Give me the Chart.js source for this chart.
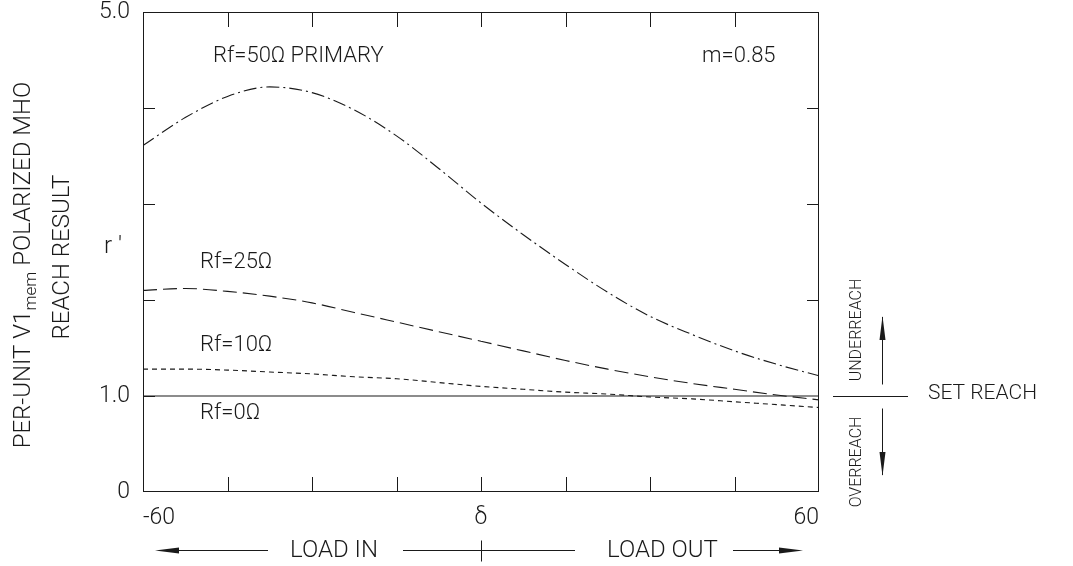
<!DOCTYPE html>
<html>
<head>
<meta charset="utf-8">
<script src="https://cdn.jsdelivr.net/npm/chart.js@4.4.0/dist/chart.umd.min.js"></script>
<style>
  body { margin: 0; background: #fff; }
  #wrap { width: 1073px; height: 566px; position: relative; }
</style>
</head>
<body>
<div id="wrap"><canvas id="reach"></canvas></div>
<script>
// load angle delta, degrees
const delta = [-60, -52.5, -45, -37.5, -30, -22.5, -15, -7.5, 0, 7.5, 15, 22.5, 30, 37.5, 45, 52.5, 60];
// per-unit reach r' for each fault resistance
const rf50 = [3.61, 3.90, 4.12, 4.22, 4.16, 3.98, 3.71, 3.37, 3.01, 2.68, 2.37, 2.08, 1.83, 1.64, 1.47, 1.33, 1.21];
const rf25 = [2.10, 2.12, 2.09, 2.04, 1.97, 1.87, 1.77, 1.67, 1.57, 1.47, 1.37, 1.28, 1.20, 1.13, 1.07, 1.01, 0.96];
const rf10 = [1.28, 1.28, 1.27, 1.25, 1.23, 1.20, 1.18, 1.14, 1.10, 1.07, 1.04, 1.02, 0.99, 0.97, 0.94, 0.91, 0.88];
const rf0  = [1.0, 1.0, 1.0, 1.0, 1.0, 1.0, 1.0, 1.0, 1.0, 1.0, 1.0, 1.0, 1.0, 1.0, 1.0, 1.0, 1.0];

const xTickLabels = ['-60', '', '', '', 'δ', '', '', '', '60'];
const yTickLabels = ['0', '1.0', '', '', '', '5.0'];

const FONT = "Roboto, 'DejaVu Sans', sans-serif";
const INK = '#1a1a1a';

const pts = function(vals) {
    return vals.map((v, i) => ({ x: delta[i], y: v }));
};

// frame, inward ticks and all the hand-lettered notes
const notes = {
    id: 'notes',
    afterDraw(chart) {
        const ctx = chart.ctx, a = chart.chartArea;
        const xs = chart.scales.x, ys = chart.scales.y;
        ctx.save();
        ctx.strokeStyle = INK;
        ctx.fillStyle = INK;
        ctx.lineWidth = 1;
        ctx.strokeRect(a.left + 0.5, a.top + 0.5, a.right - a.left - 1, a.bottom - a.top - 1);

        ctx.beginPath();
        [-45, -30, -15, 0, 15, 30, 45].forEach(v => {
            const px = Math.round(xs.getPixelForValue(v)) + 0.5;
            ctx.moveTo(px, a.bottom); ctx.lineTo(px, a.bottom - 15);
            ctx.moveTo(px, a.top); ctx.lineTo(px, a.top + 15);
        });
        [1, 2, 3, 4].forEach(v => {
            const py = Math.round(ys.getPixelForValue(v)) + 0.5;
            ctx.moveTo(a.left, py); ctx.lineTo(a.left + 12, py);
            if (v > 1) { ctx.moveTo(a.right, py); ctx.lineTo(a.right - 12, py); }
        });
        ctx.stroke();

        const txt = function(s, x, y, size) {
            ctx.font = '300 ' + size + 'px ' + FONT;
            ctx.textAlign = 'left';
            ctx.textBaseline = 'middle';
            ctx.fillText(s, x, y);
        };
        txt('Rf=50Ω PRIMARY', 213, 56, 22);
        txt('m=0.85', 702, 56, 22);
        txt('Rf=25Ω', 200, 262, 22);
        txt('Rf=10Ω', 200, 345, 22);
        txt('Rf=0Ω', 200, 413, 22);
        txt('r ′', 104, 247, 24);
        txt('SET REACH', 928, 394, 21);
        txt('LOAD IN', 290, 551, 24);
        txt('LOAD OUT', 607, 551, 24);

        // y axis title, rotated, with subscript
        const parts = [['PER-UNIT V1', 0], ['mem', 8], [' POLARIZED MHO', 0]];
        ctx.save();
        ctx.translate(24, 265);
        ctx.rotate(-Math.PI / 2);
        ctx.textBaseline = 'middle';
        ctx.textAlign = 'left';
        let total = 0;
        parts.forEach(p => {
            ctx.font = '300 ' + (p[1] ? 17 : 24) + 'px ' + FONT;
            total += ctx.measureText(p[0]).width;
        });
        let cx = -total / 2;
        parts.forEach(p => {
            ctx.font = '300 ' + (p[1] ? 17 : 24) + 'px ' + FONT;
            ctx.fillText(p[0], cx, p[1]);
            cx += ctx.measureText(p[0]).width;
        });
        ctx.font = '300 24px ' + FONT;
        ctx.textAlign = 'center';
        ctx.fillText('REACH RESULT', 8, 39);
        ctx.restore();

        const vtxt = function(s, x, y) {
            ctx.save();
            ctx.translate(x, y);
            ctx.rotate(-Math.PI / 2);
            ctx.font = '300 16px ' + FONT;
            ctx.textAlign = 'center';
            ctx.textBaseline = 'middle';
            ctx.fillText(s, 0, 0);
            ctx.restore();
        };
        vtxt('UNDERREACH', 857, 330);
        vtxt('OVERREACH', 857, 462);

        // set reach marker and arrows
        const y1 = Math.round(ys.getPixelForValue(1)) + 0.5;
        ctx.beginPath();
        ctx.moveTo(833, y1); ctx.lineTo(908, y1);
        ctx.moveTo(882.5, y1 - 12); ctx.lineTo(882.5, 317);
        ctx.moveTo(882.5, y1 + 12); ctx.lineTo(882.5, 475);
        const my = 550.5;
        ctx.moveTo(160, my); ctx.lineTo(268, my);
        ctx.moveTo(403, my); ctx.lineTo(575, my);
        const x0 = Math.round(xs.getPixelForValue(0)) + 0.5;
        ctx.moveTo(x0, my - 10); ctx.lineTo(x0, my + 11);
        ctx.moveTo(733, my); ctx.lineTo(798, my);
        ctx.stroke();

        const head = function(tx, ty, dx, dy) {
            // narrow filled arrow head pointing along (dx, dy)
            const len = 24, w = 3;
            ctx.beginPath();
            ctx.moveTo(tx, ty);
            ctx.lineTo(tx - dx * len - dy * w, ty - dy * len + dx * w);
            ctx.lineTo(tx - dx * len + dy * w, ty - dy * len - dx * w);
            ctx.closePath();
            ctx.fill();
        };
        head(882.5, 316, 0, -1);
        head(882.5, 476, 0, 1);
        head(155, my, -1, 0);
        head(803, my, 1, 0);
        ctx.restore();
    }
};

const ctx = document.getElementById('reach').getContext('2d');
const reachChart = new Chart(ctx, {
    type: 'line',
    data: {
        datasets: [
            { label: 'Rf=50Ω', data: pts(rf50), borderDash: [13, 4, 2, 4] },
            { label: 'Rf=25Ω', data: pts(rf25), borderDash: [14, 6] },
            { label: 'Rf=10Ω', data: pts(rf10), borderDash: [5, 4] },
            { label: 'Rf=0Ω', data: pts(rf0), borderDash: [] }
        ]
    },
    options: {
        responsive: true,
        maintainAspectRatio: false,
        animation: false,
        layout: { padding: { left: 0, right: 254, top: 12, bottom: 0 } },
        elements: {
            point: { radius: 0 },
            line: { borderColor: INK, borderWidth: 1.1, cubicInterpolationMode: 'monotone', fill: false }
        },
        plugins: { legend: { display: false }, tooltip: { enabled: false } },
        scales: {
            x: {
                type: 'linear', min: -60, max: 60,
                grid: { display: false, drawTicks: false },
                border: { display: false },
                ticks: {
                    stepSize: 15, autoSkip: false, maxRotation: 0, align: 'inner', padding: 12,
                    color: INK, font: { family: FONT, size: 23, weight: 300 },
                    callback: (v, i) => xTickLabels[i]
                },
                afterFit: s => { s.height = 74; s.paddingLeft = 0; s.paddingRight = 0; }
            },
            y: {
                type: 'linear', min: 0, max: 5,
                grid: { display: false, drawTicks: false },
                border: { display: false },
                ticks: {
                    stepSize: 1, autoSkip: false, padding: 13,
                    color: INK, font: { family: FONT, size: 23, weight: 300 },
                    callback: (v, i) => yTickLabels[i]
                },
                afterFit: s => { s.width = 143; s.paddingTop = 0; s.paddingBottom = 0; }
            }
        }
    },
    plugins: [notes]
});
</script>
</body>
</html>
